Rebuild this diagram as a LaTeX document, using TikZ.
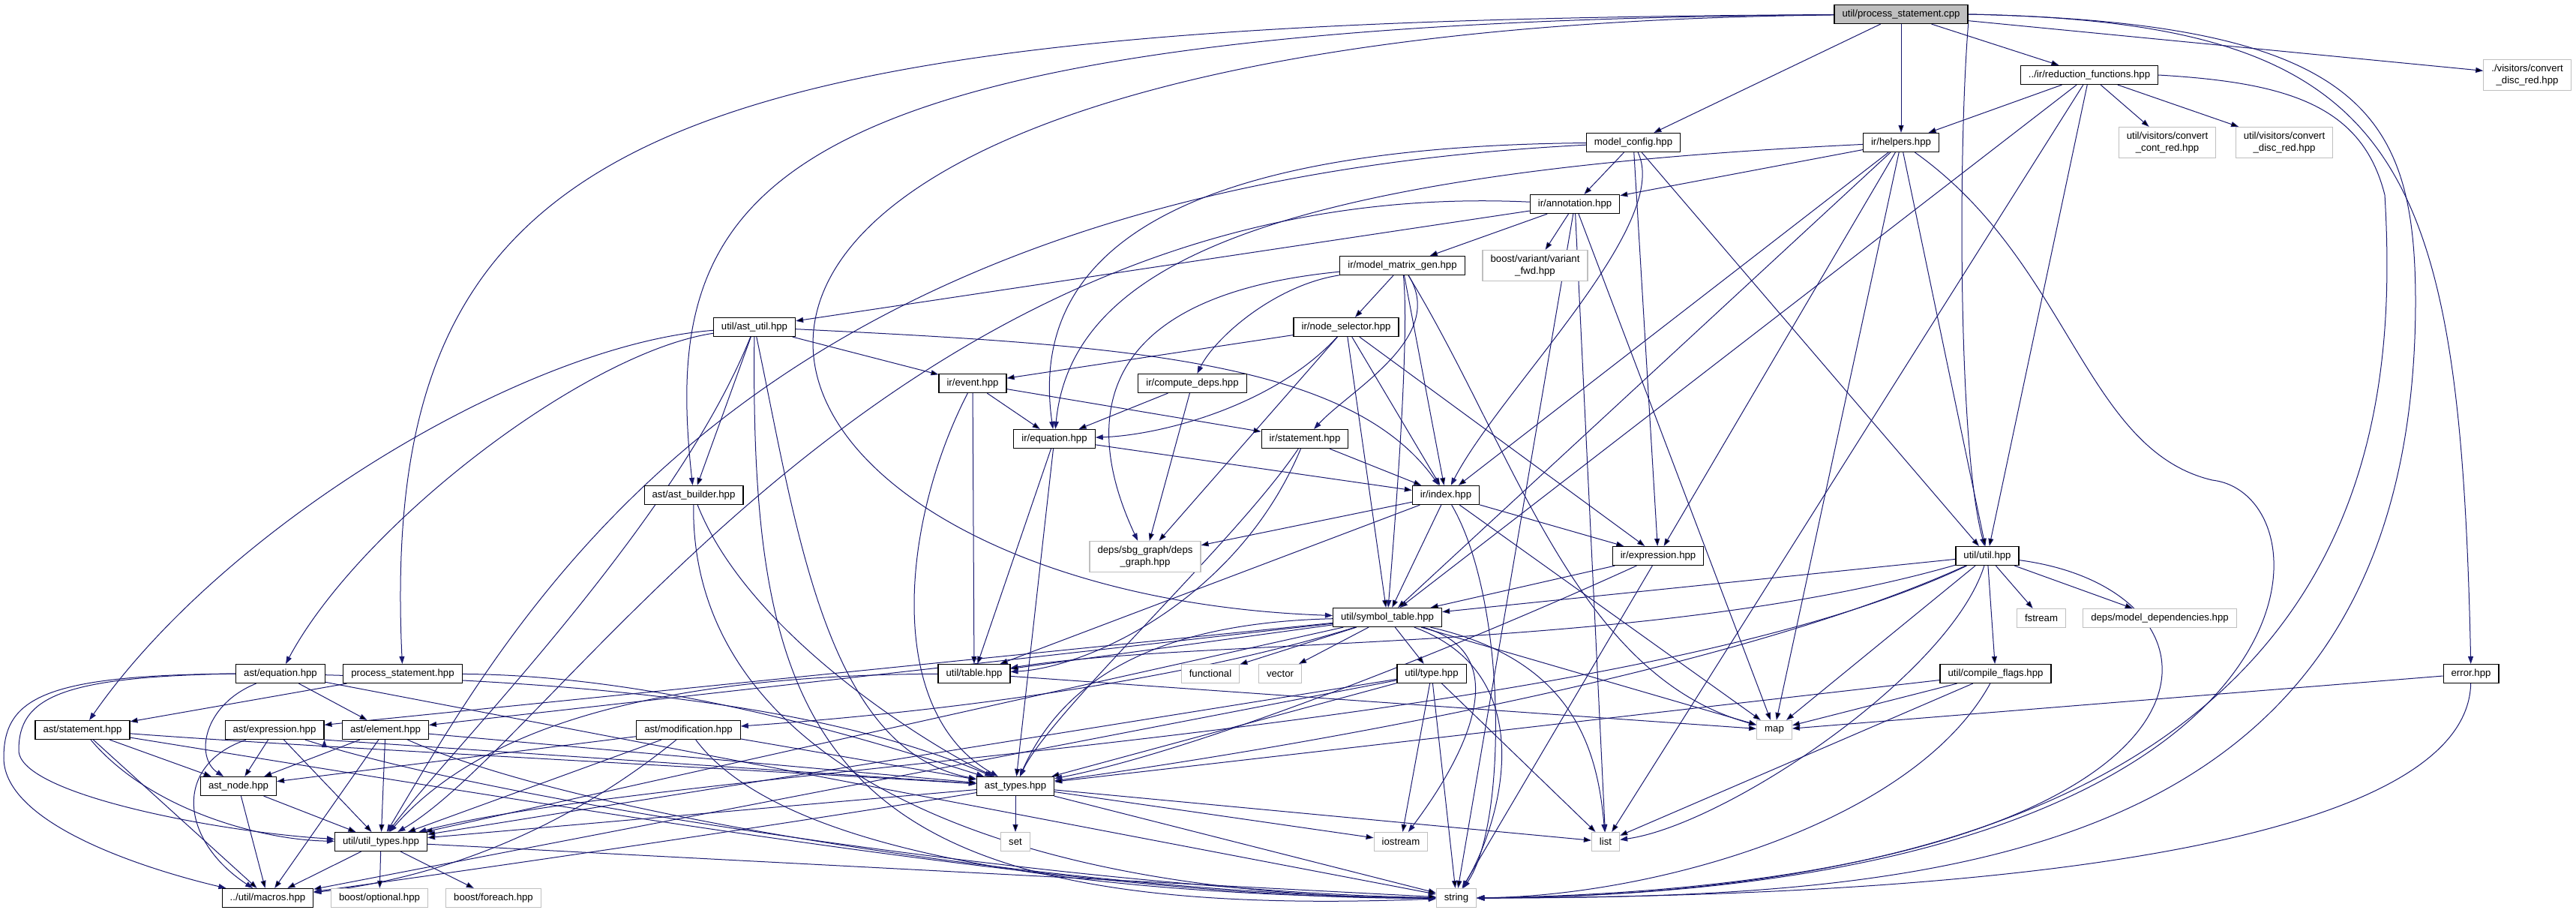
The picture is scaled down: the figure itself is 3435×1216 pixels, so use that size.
\documentclass[tikz,border=0pt]{standalone}
\usepackage{fontspec}
\setmainfont{Liberation Sans}
\usetikzlibrary{arrows.meta}
\definecolor{edgeblue}{HTML}{191970}
\definecolor{grey75}{HTML}{BFBFBF}
\pgfdeclarelayer{back}
\pgfsetlayers{back,main}

\begin{document}
\begin{tikzpicture}[x=1pt,y=-1pt,>={Stealth[length=10pt,width=7pt,inset=0pt]},
    hdr/.style={draw=black,fill=white,line width=1.2pt,minimum height=25pt,
      inner xsep=10.5pt,inner ysep=2pt,align=center,font=\fontsize{13.2}{15.5}\selectfont},
    sys/.style={hdr,draw=grey75},
    sys2/.style={sys,minimum height=41pt},
    src/.style={hdr,fill=grey75},
    dep/.style={->,draw=edgeblue,line width=1pt}]
  \useasboundingbox (0,0) rectangle (3435,1216);
  % top ranks
  \node[src] (psc) at (2535,19) {util/process\_statement.cpp};
  \node[hdr] (redf) at (2786,100) {../ir/reduction\_functions.hpp};
  \node[sys2] (vdsa) at (3370,100) {./visitors/convert\\\_disc\_red.hpp};
  \node[hdr] (mcfg) at (2178,190) {model\_config.hpp};
  \node[hdr] (hlp) at (2535,190) {ir/helpers.hpp};
  \node[sys2] (vcont) at (2890,190) {util/visitors/convert\\\_cont\_red.hpp};
  \node[sys2] (vdsb) at (3046,190) {util/visitors/convert\\\_disc\_red.hpp};
  \node[hdr] (annot) at (2100,272) {ir/annotation.hpp};
  \node[hdr] (mmg) at (1870,354) {ir/model\_matrix\_gen.hpp};
  \node[sys2] (bvar) at (2047,354) {boost/variant/variant\\\_fwd.hpp};
  % middle ranks
  \node[hdr] (astu) at (1006,436) {util/ast\_util.hpp};
  \node[hdr] (nsel) at (1795,436) {ir/node\_selector.hpp};
  \node[hdr] (event) at (1297,511) {ir/event.hpp};
  \node[hdr] (cdep) at (1590,511) {ir/compute\_deps.hpp};
  \node[hdr] (ireq) at (1406,585) {ir/equation.hpp};
  \node[hdr] (irst) at (1740,585) {ir/statement.hpp};
  \node[hdr] (astb) at (925,660) {ast/ast\_builder.hpp};
  \node[hdr] (index) at (1928,660) {ir/index.hpp};
  \node[sys2] (dgr) at (1527,742) {deps/sbg\_graph/deps\\\_graph.hpp};
  \node[hdr] (irexp) at (2211,741) {ir/expression.hpp};
  \node[hdr] (uutil) at (2650,741) {util/util.hpp};
  \node[hdr] (symt) at (1850,823) {util/symbol\_table.hpp};
  \node[sys] (fstr) at (2722,824) {fstream};
  \node[sys] (mdep) at (2880,824) {deps/model\_dependencies.hpp};
  % lower ranks
  \node[hdr] (aequ) at (374,898) {ast/equation.hpp};
  \node[hdr] (pshpp) at (537,898) {process\_statement.hpp};
  \node[hdr] (tbl) at (1299,898) {util/table.hpp};
  \node[sys] (func) at (1614,898) {functional};
  \node[sys] (vect) at (1707,898) {vector};
  \node[hdr] (utype) at (1909,898) {util/type.hpp};
  \node[hdr] (ucf) at (2661,898) {util/compile\_flags.hpp};
  \node[hdr] (err) at (3295,898) {error.hpp};
  \node[hdr] (astm) at (110,973) {ast/statement.hpp};
  \node[hdr] (aexp) at (366,973) {ast/expression.hpp};
  \node[hdr] (aelem) at (514,973) {ast/element.hpp};
  \node[hdr] (amod) at (918,973) {ast/modification.hpp};
  \node[sys] (map) at (2366,973) {map};
  \node[hdr] (anode) at (318,1048) {ast\_node.hpp};
  \node[hdr] (atyp) at (1354,1048) {ast\_types.hpp};
  \node[hdr] (utyp) at (508,1122) {util/util\_types.hpp};
  \node[sys] (set) at (1354,1122) {set};
  \node[sys] (iostr) at (1868,1122) {iostream};
  \node[sys] (lst) at (2141,1122) {list};
  \node[hdr] (macr) at (357,1197) {../util/macros.hpp};
  \node[sys] (bopt) at (506,1197) {boost/optional.hpp};
  \node[sys] (bfe) at (658,1197) {boost/foreach.hpp};
  \node[sys] (str) at (1942,1197) {string};

  \begin{pgfonlayer}{back}
  % util/process_statement.cpp
  \path[dep] (psc) edge (mcfg) edge (hlp) edge (redf) edge (vdsa);
  \draw[dep] (psc.south east) .. controls (2611,200) and (2611,600) .. (uutil);
  \draw[dep] (psc) .. controls (900,28) and (502,150) .. (pshpp);
  \draw[dep] (psc) .. controls (1000,30) and (880,250) .. (astb);
  \draw[dep] (psc) .. controls (600,40) and (900,790) .. (symt);
  \draw[dep] (psc.east) .. controls (3200,30) and (3280,200) .. (err);
  \draw[dep] (psc.east) .. controls (3150,30) and (3220,150) .. (3221,400)
    .. controls (3221,1150) and (2600,1197) .. (str.east);
  % ir
  \path[dep] (redf) edge (hlp) edge (vcont) edge (vdsb) edge (symt) edge (lst) edge (uutil);
  \draw[dep] (redf.east) .. controls (3050,110) and (3150,140) .. (3180,260)
    .. controls (3200,600) and (3150,1190) .. (str.east);
  \path[dep] (hlp) edge (annot) edge (index) edge (irexp) edge (uutil) edge (symt) edge (map);
  \draw[dep] (hlp) .. controls (1700,230) and (1429,350) .. (ireq);
  \draw[dep] (hlp) .. controls (2760,350) and (2780,600) .. (2950,640)
    .. controls (3121,660) and (3121,1190) .. (str.east);
  \path[dep] (mcfg) edge (annot) edge (irexp) edge (uutil);
  \draw[dep] (mcfg) .. controls (2230,300) and (2000,520) .. (index);
  \draw[dep] (mcfg) .. controls (1600,195) and (1368,320) .. (ireq);
  \draw[dep] (mcfg) .. controls (1000,250) and (700,800) .. (utyp);
  \path[dep] (annot) edge (mmg) edge (bvar) edge (astu) edge (map) edge (lst) edge (str);
  \draw[dep] (annot) .. controls (1200,230) and (750,980) .. (utyp);
  \path[dep] (mmg) edge (nsel) edge (index);
  \draw[dep] (mmg) .. controls (1700,380) and (1620,450) .. (cdep);
  \draw[dep] (mmg) .. controls (1930,450) and (1800,520) .. (irst);
  \draw[dep] (mmg) .. controls (1400,400) and (1470,620) .. (dgr);
  \draw[dep] (mmg) .. controls (1880,450) and (1860,700) .. (symt);
  \draw[dep] (mmg) .. controls (2020,600) and (2100,900) .. (map);
  \path[dep] (nsel) edge (event) edge (dgr) edge (symt) edge (index) edge (irexp);
  \draw[dep] (nsel) .. controls (1700,540) and (1550,580) .. (ireq);
  \path[dep] (astu) edge (astb) edge (event);
  \draw[dep] (astu) .. controls (1500,460) and (1800,480) .. (index);
  \draw[dep] (astu) .. controls (780,470) and (480,700) .. (aequ);
  \draw[dep] (astu) .. controls (700,460) and (300,700) .. (astm);
  \draw[dep] (astu) .. controls (900,700) and (600,1000) .. (utyp);
  \draw[dep] (astu) .. controls (1062,700) and (1100,1000) .. (atyp);
  \draw[dep] (astu) .. controls (1000,1000) and (1100,1230) .. (str);
  \path[dep] (event) edge (ireq) edge (irst) edge (tbl);
  \draw[dep] (event) .. controls (1200,700) and (1180,950) .. (atyp);
  \path[dep] (cdep) edge (ireq) edge (dgr);
  \path[dep] (ireq) edge (index) edge (tbl) edge (atyp);
  \path[dep] (irst) edge (index);
  \draw[dep] (irst) .. controls (1650,800) and (1450,890) .. (tbl);
  \draw[dep] (irst) .. controls (1650,720) and (1400,950) .. (atyp);
  \draw[dep] (astb) .. controls (1000,850) and (1250,1000) .. (atyp);
  \draw[dep] (astb) .. controls (920,1000) and (1300,1195) .. (str);
  \path[dep] (index) edge (dgr) edge (irexp) edge (symt) edge (tbl) edge (map);
  \draw[dep] (index) .. controls (2010,800) and (2010,1100) .. (str);
  \path[dep] (irexp) edge (symt) edge (str);
  \draw[dep] (irexp) .. controls (1950,860) and (1600,1000) .. (atyp);
  % util
  \path[dep] (uutil) edge (symt) edge (fstr) edge (mdep) edge (ucf) edge (map);
  \draw[dep] (uutil) .. controls (2300,900) and (1700,1000) .. (atyp);
  \draw[dep] (uutil) .. controls (2200,870) and (1600,850) .. (tbl);
  \draw[dep] (uutil) .. controls (2150,980) and (900,1020) .. (utyp);
  \draw[dep] (uutil) .. controls (2600,900) and (2300,1100) .. (lst);
  \draw[dep] (uutil) .. controls (3020,790) and (3010,1180) .. (str.east);
  \path[dep] (symt) edge (func) edge (vect) edge (utype) edge (tbl) edge (map)
    edge (aexp) edge (aelem) edge (utyp);
  \draw[dep] (symt) .. controls (2020,870) and (1960,1000) .. (iostr);
  \draw[dep] (symt) .. controls (2100,880) and (2130,1000) .. (lst);
  \draw[dep] (symt) .. controls (2060,900) and (2000,1100) .. (str);
  \draw[dep] (symt) .. controls (1550,830) and (1420,900) .. (atyp);
  \draw[dep] (symt) .. controls (1500,930) and (1100,960) .. (amod);
  \path[dep] (utype) edge (atyp) edge (utyp) edge (macr) edge (iostr) edge (str) edge (lst);
  \path[dep] (tbl) edge (map);
  \draw[dep] (tbl) .. controls (900,900) and (650,960) .. (utyp);
  \path[dep] (ucf) edge (map) edge (lst) edge (atyp);
  \draw[dep] (ucf) .. controls (2550,1100) and (2200,1195) .. (str);
  \path[dep] (err) edge (map);
  \draw[dep] (err) .. controls (3290,1100) and (2800,1195) .. (str.east);
  % ast
  \path[dep] (pshpp) edge (astm);
  \draw[dep] (pshpp) .. controls (900,900) and (1200,1000) .. (atyp);
  \path[dep] (aequ) edge (aelem) edge (str);
  \draw[dep] (aequ) .. controls (270,940) and (260,1010) .. (anode);
  \draw[dep] (aequ) .. controls (800,910) and (1100,940) .. (atyp);
  \draw[dep] (aequ.west) .. controls (60,900) and (5,930) .. (5,1010)
    .. controls (5,1100) and (200,1160) .. (macr);
  \draw[dep] (aequ.west) .. controls (80,902) and (25,930) .. (25,1000)
    .. controls (25,1060) and (300,1110) .. (utyp);
  \path[dep] (astm) edge (anode) edge (macr);
  \draw[dep] (astm) .. controls (200,1080) and (350,1120) .. (utyp);
  \draw[dep] (astm) .. controls (400,995) and (900,1020) .. (atyp);
  \draw[dep] (astm) .. controls (900,1100) and (1500,1200) .. (str);
  \path[dep] (aexp) edge (anode) edge (utyp);
  \path[dep] (aexp.south east) edge (atyp);
  \draw[dep] (aexp) .. controls (230,1020) and (240,1120) .. (macr);
  \draw[dep] (aexp) .. controls (700,1080) and (1500,1190) .. (str);
  \path[dep] (aelem) edge (anode) edge (utyp) edge (macr) edge (atyp);
  \draw[dep] (aelem) .. controls (800,1100) and (1500,1195) .. (str);
  \path[dep] (amod) edge (anode) edge (utyp) edge (atyp);
  \draw[dep] (amod) .. controls (700,1150) and (500,1180) .. (macr);
  \draw[dep] (amod) .. controls (1050,1150) and (1500,1195) .. (str);
  \path[dep] (anode) edge (utyp) edge (macr);
  \path[dep] (atyp) edge (set) edge (iostr) edge (lst) edge (str) edge (utyp);
  \draw[dep] (atyp) .. controls (1100,1090) and (700,1150) .. (macr);
  \path[dep] (utyp) edge (macr) edge (bopt) edge (bfe) edge (str);
  \end{pgfonlayer}
\end{tikzpicture}
\end{document}
